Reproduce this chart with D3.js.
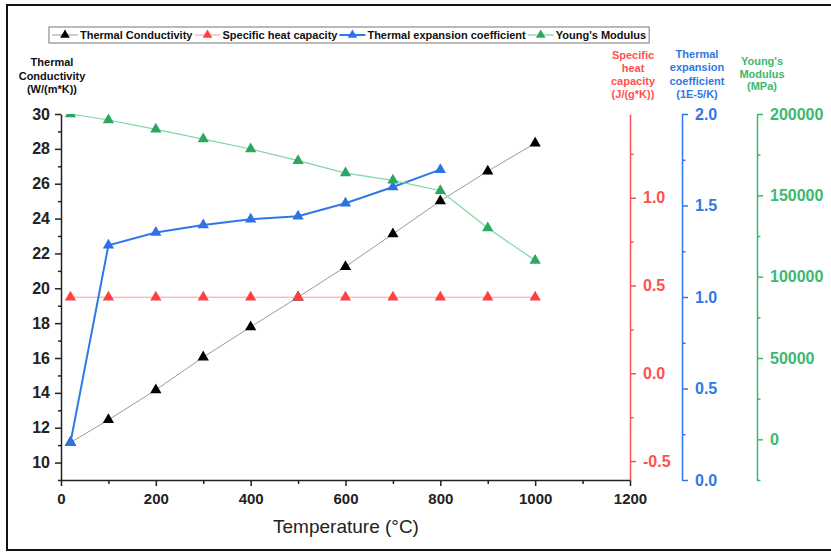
<!DOCTYPE html>
<html>
<head>
<meta charset="utf-8">
<script src="https://cdn.jsdelivr.net/npm/d3@7"></script>
<style>
  body { margin: 0; background: #fff; }
  text { font-family: Arial, "Liberation Sans", sans-serif; }
</style>
</head>
<body>
<svg id="chart" width="831" height="552"></svg>
<script>
// data
let temps = [20, 100, 200, 300, 400, 500, 600, 700, 800, 900, 1000]
let conductivity = [11.15, 12.45, 14.17, 16.05, 17.78, 19.49, 21.24, 23.12, 25.01, 26.72, 28.32]
let heatCapacity = [0.433, 0.433, 0.433, 0.433, 0.433, 0.433, 0.433, 0.433, 0.433, 0.433, 0.433]
let expansion = [0.204, 1.283, 1.352, 1.393, 1.425, 1.441, 1.512, 1.601, 1.696]
let youngs = [200000, 196300, 190600, 184600, 178500, 171300, 163700, 159200, 152800, 129900, 110000]

let xTicks = [0, 200, 400, 600, 800, 1000, 1200]
let leftTicks = [10, 12, 14, 16, 18, 20, 22, 24, 26, 28, 30]
let redTicks = [-0.5, 0.0, 0.5, 1.0]
let blueTicks = [0.0, 0.5, 1.0, 1.5, 2.0]
let greenTicks = [0, 50000, 100000, 150000, 200000]

let seriesNames = ["Thermal Conductivity", "Specific heat capacity", "Thermal expansion coefficient", "Young's Modulus"]

const svg = d3.select("#chart")
const plotTop = 114, plotBottom = 480, plotLeft = 61, plotRight = 630

let x = d3.scaleLinear().domain([0, 1200]).range([plotLeft, plotRight])
let yL = d3.scaleLinear().domain([9, 30]).range([plotBottom, plotTop])
let yR = d3.scaleLinear().domain([-0.608, 1.477]).range([plotBottom, plotTop])
let yB = d3.scaleLinear().domain([0, 2]).range([plotBottom, plotTop])
let yG = d3.scaleLinear().domain([-25000, 200000]).range([plotBottom, plotTop])

const cRed = "#ff5050", cBlue = "#2f78e8", cGreen = "#3cb96e"
// plain hyphen for negatives, like the original
let fmt1 = d => d3.format(".1f")(d).replace("\u2212", "-")

// outer frame
svg.append("rect")
    .attr("x", 7).attr("y", 5).attr("width", 840).attr("height", 545)
    .attr("fill", "none").attr("stroke", "#111").attr("stroke-width", 2)

function styleAxis(g, color, size) {
    g.select(".domain").attr("stroke", color).attr("stroke-width", 1.5)
    g.selectAll(".tick line").attr("stroke", color).attr("stroke-width", 1.5)
    g.selectAll(".tick text").attr("fill", color)
        .attr("font-size", size).attr("font-weight", "bold")
}

// bottom axis
let gx = svg.append("g").attr("transform", `translate(0,${plotBottom})`)
    .call(d3.axisBottom(x).tickValues(d3.range(100, 1200, 200)).tickSize(4).tickFormat("").tickSizeOuter(0))
gx.select(".domain").remove()
gx.selectAll("line").attr("stroke", "#222").attr("stroke-width", 1.5)
let gx2 = svg.append("g").attr("transform", `translate(0,${plotBottom})`)
    .call(d3.axisBottom(x).tickValues(xTicks).tickSize(6).tickPadding(7).tickSizeOuter(0).tickFormat(d3.format("d")))
styleAxis(gx2, "#222", 15)

// left axis
let gl = svg.append("g").attr("transform", `translate(${plotLeft},0)`)
    .call(d3.axisLeft(yL).tickValues(d3.range(9, 31, 2)).tickSize(3).tickFormat("").tickSizeOuter(0))
gl.select(".domain").remove()
gl.selectAll("line").attr("stroke", "#222").attr("stroke-width", 1.5)
let gl2 = svg.append("g").attr("transform", `translate(${plotLeft},0)`)
    .call(d3.axisLeft(yL).tickValues(leftTicks).tickSize(6).tickPadding(5).tickSizeOuter(0))
styleAxis(gl2, "#222", 16)

// right axes
function rightAxis(xPos, scale, majors, minors, color, fmt) {
    let g1 = svg.append("g").attr("transform", `translate(${xPos},0)`)
        .call(d3.axisRight(scale).tickValues(minors).tickSize(3.5).tickFormat("").tickSizeOuter(0))
    g1.select(".domain").remove()
    g1.selectAll("line").attr("stroke", color).attr("stroke-width", 1.5)
    let g2 = svg.append("g").attr("transform", `translate(${xPos},0)`)
        .call(d3.axisRight(scale).tickValues(majors).tickSize(6).tickPadding(7).tickSizeOuter(0).tickFormat(fmt))
    styleAxis(g2, color, 16)
}
rightAxis(630, yR, redTicks, [-0.25, 0.25, 0.75, 1.25], cRed, fmt1)
rightAxis(682, yB, blueTicks, [0.25, 0.75, 1.25, 1.75], cBlue, fmt1)
rightAxis(757, yG, greenTicks, [-25000, 25000, 75000, 125000, 175000], cGreen, d3.format("d"))

// axis titles
function title(lines, cx, y0, color, dy) {
    let t = svg.append("text").attr("text-anchor", "middle").attr("fill", color)
        .attr("font-size", 11).attr("font-weight", "bold")
    lines.forEach((s, i) => t.append("tspan").attr("x", cx).attr("y", y0 + i * dy).text(s))
}
title(["Thermal", "Conductivity", "(W/(m*K))"], 52, 66, "#111", 13.5)
title(["Specific", "heat", "capacity", "(J/(g*K))"], 633, 59, cRed, 13)
title(["Thermal", "expansion", "coefficient", "(1E-5/K)"], 697, 58, cBlue, 13.3)
title(["Young's", "Modulus", "(MPa)"], 762, 65, cGreen, 12.5)

svg.append("text").attr("x", 346).attr("y", 533).attr("text-anchor", "middle")
    .attr("font-size", 19).attr("fill", "#222").text("Temperature (°C)")

// plot series
svg.append("clipPath").attr("id", "plotclip").append("rect")
    .attr("x", plotLeft).attr("y", plotTop).attr("width", plotRight - plotLeft + 20).attr("height", plotBottom - plotTop)
let plot = svg.append("g").attr("clip-path", "url(#plotclip)")
let tri = d3.symbol().type(d3.symbolTriangle).size(55)

let series = [
    { vals: conductivity, y: yL, line: "#9a9a9a", mark: "#000", w: 1 },
    { vals: heatCapacity, y: yR, line: "#ff9a9a", mark: "#ff4040", w: 1 },
    { vals: expansion, y: yB, line: cBlue, mark: "#2a72e6", w: 2 },
    { vals: youngs, y: yG, line: "#80d6a2", mark: "#2aa862", w: 1.2 }
]
series.forEach(s => {
    let pts = s.vals.map((v, i) => [x(temps[i]), s.y(v)])
    plot.append("path").datum(pts)
        .attr("fill", "none").attr("stroke", s.line).attr("stroke-width", s.w)
        .attr("d", d3.line())
    plot.selectAll(null).data(pts).enter().append("path")
        .attr("transform", d => `translate(${d[0]},${d[1]})`)
        .attr("d", tri).attr("fill", s.mark)
})

// legend
let leg = svg.append("g")
let lx = 52
series.forEach((s, i) => {
    leg.append("line").attr("x1", lx).attr("x2", lx + 26).attr("y1", 35).attr("y2", 35)
        .attr("stroke", s.line).attr("stroke-width", s.w)
    leg.append("path").attr("transform", `translate(${lx + 13},35)`)
        .attr("d", d3.symbol().type(d3.symbolTriangle).size(40)).attr("fill", s.mark)
    let t = leg.append("text").attr("x", lx + 28).attr("y", 39)
        .attr("font-size", 11).attr("font-weight", "bold").attr("fill", "#111").text(seriesNames[i])
    lx += 28 + t.node().getComputedTextLength() + 2
})
leg.insert("rect", ":first-child").attr("x", 49).attr("y", 27).attr("width", lx - 49 + 1).attr("height", 16)
    .attr("fill", "#fff").attr("stroke", "#777").attr("stroke-width", 1)
</script>
</body>
</html>
